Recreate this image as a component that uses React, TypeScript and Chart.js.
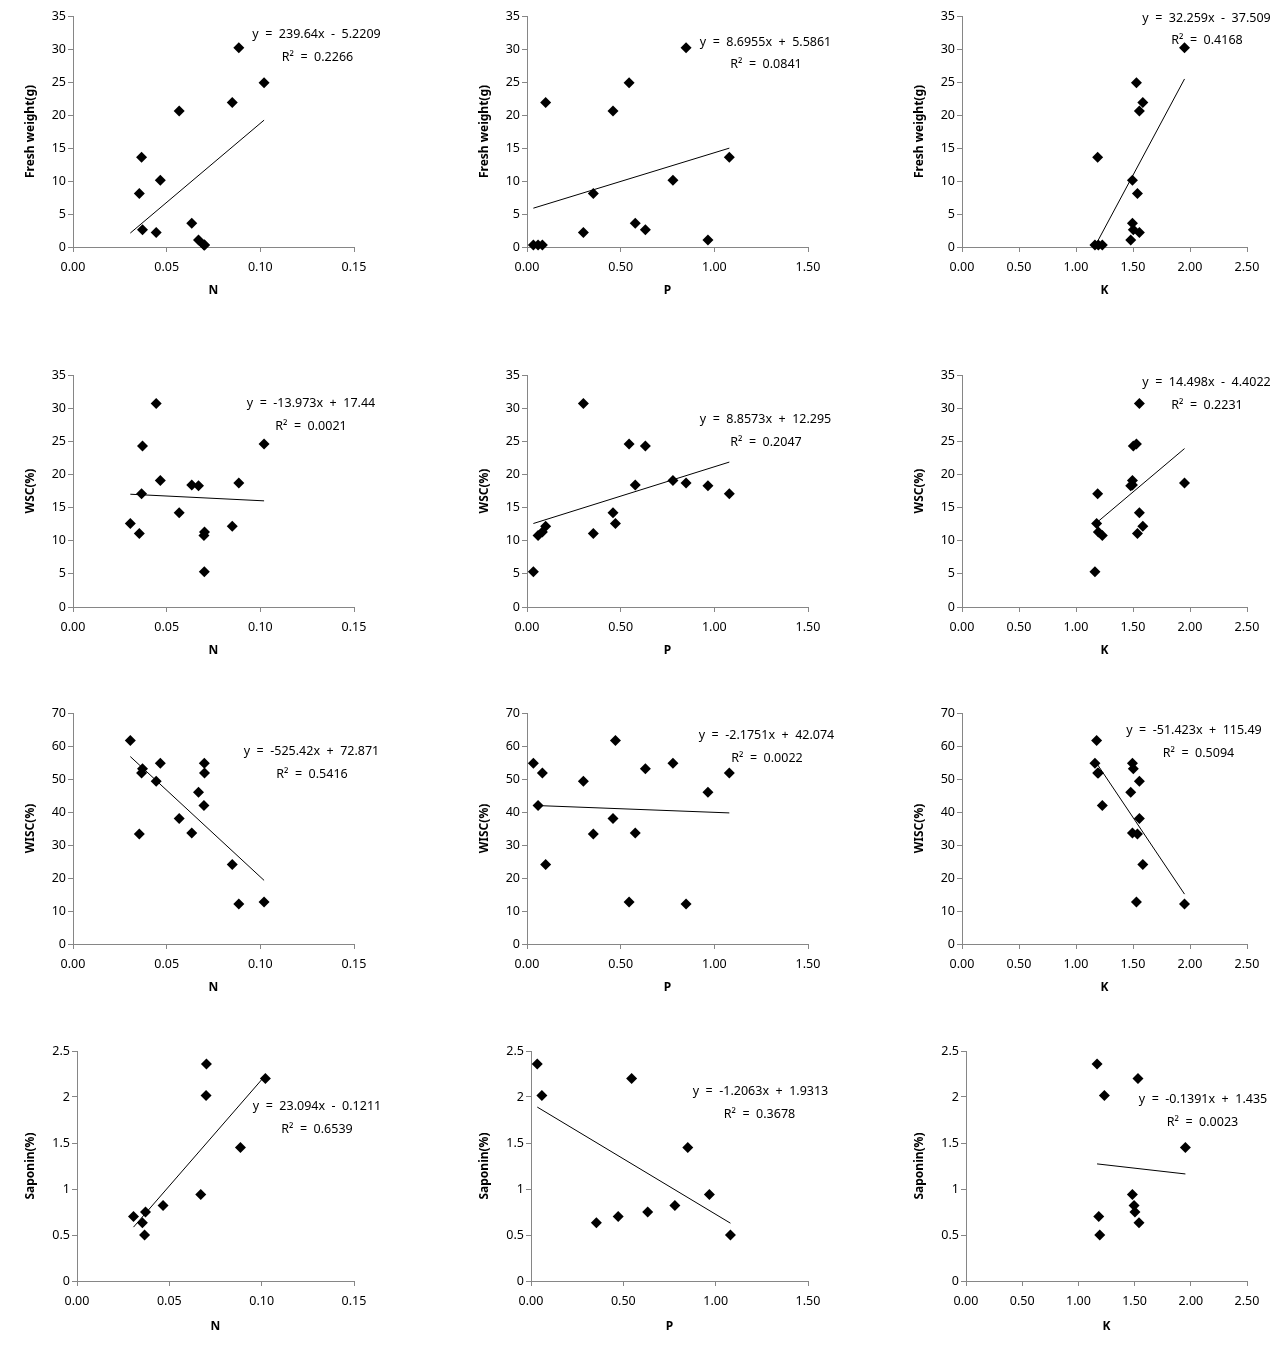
import React, { useEffect, useRef } from 'react';
import { Chart, registerables } from 'chart.js';

Chart.register(...registerables);

// ---- Data (15 samples; null = no measurement) ----
const nitrogen = [0.0444, 0.102, 0.0371, 0.0466, 0.0885, 0.0634, 0.067, 0.0366, 0.0567, 0.0306, 0.085, 0.0354, 0.0702, 0.0699, 0.0701];
const phosphorus = [0.301, 0.545, 0.632, 0.779, 0.849, 0.578, 0.966, 1.08, 0.459, 0.472, 0.0996, 0.354, 0.082, 0.059, 0.034];
const potassium = [1.556, 1.53, 1.503, 1.495, 1.952, 1.495, 1.48, 1.19, 1.556, 1.181, 1.586, 1.539, 1.196, 1.231, 1.166];

const freshWeight = [2.2, 24.9, 2.6, 10.1, 30.2, 3.6, 1.06, 13.6, 20.6, null, 21.9, 8.1, 0.3, 0.3, 0.3];
const wsc = [30.7, 24.6, 24.3, 19.1, 18.7, 18.4, 18.3, 17.1, 14.2, 12.6, 12.2, 11.1, 11.3, 10.8, 5.3];
const wisc = [49.3, 12.7, 53.1, 54.8, 12.1, 33.6, 46.0, 51.8, 38.0, 61.7, 24.1, 33.3, 51.8, 42.0, 54.8];
const saponin = [null, 2.2, 0.75, 0.82, 1.45, null, 0.94, 0.5, null, 0.7, null, 0.633, null, 2.015, 2.36];

const xTitles = ['N', 'P', 'K'];
const xValues = [nitrogen, phosphorus, potassium];
const xTickValues = [
  [0, 0.05, 0.1, 0.15],
  [0, 0.5, 1, 1.5],
  [0, 0.5, 1, 1.5, 2, 2.5],
];

const yTitles = ['Fresh weight(g)', 'WSC(%)', 'WISC(%)', 'Saponin(%)'];
const yValues = [freshWeight, wsc, wisc, saponin];
const yTickValues = [
  [0, 5, 10, 15, 20, 25, 30, 35],
  [0, 5, 10, 15, 20, 25, 30, 35],
  [0, 10, 20, 30, 40, 50, 60, 70],
  [0, 0.5, 1, 1.5, 2, 2.5],
];

// Trendline equations as printed (rows: FW, WSC, WISC, Saponin; cols: N, P, K)
const slopes = [
  [239.64, 8.6955, 32.259],
  [-13.973, 8.8573, 14.498],
  [-525.42, -2.1751, -51.423],
  [23.094, -1.2063, -0.1391],
];
const intercepts = [
  [-5.2209, 5.5861, -37.509],
  [17.44, 12.295, -4.4022],
  [72.871, 42.074, 115.49],
  [-0.1211, 1.9313, 1.435],
];
const rSquared = [
  ['0.2266', '0.0841', '0.4168'],
  ['0.0021', '0.2047', '0.2231'],
  ['0.5416', '0.0022', '0.5094'],
  ['0.6539', '0.3678', '0.0023'],
];

// ---- Layout (page pixels) ----
const PLOT_LEFT = [
  [73, 527, 962],
  [73, 527, 962],
  [73, 527, 962],
  [77, 531, 966],
];
const PLOT_RIGHT = [354, 808, 1247];
const PLOT_TOP = [16, 375, 713, 1051];
const PLOT_BOTTOM = [247, 607, 944, 1281];
const Y_AXIS_W = [50, 50, 50, 54];
const X_AXIS_H = [51, 51, 51, 53];
const PAD_T = 14;
const PAD_R = 30;

const EQ_POS = [
  [[316.5, 34], [765.5, 42], [1206.5, 18]],
  [[311, 403], [765.5, 419], [1206.5, 382]],
  [[311.5, 751], [766.5, 735], [1194, 730]],
  [[317, 1106], [760.5, 1091], [1203, 1099]],
];
const R2_POS = [
  [[317.5, 57], [766, 64], [1207, 40]],
  [[311, 426], [766, 442], [1207, 405]],
  [[312, 774], [767, 758], [1198.5, 753]],
  [[317, 1129], [759.5, 1114], [1202.5, 1122]],
];

const FONT = '"Noto Sans", "Open Sans", Arial, sans-serif';
const AXIS_COLOR = '#868686';

function Panel({ r, c }: { r: number; c: number }) {
  const ref = useRef<HTMLCanvasElement | null>(null);
  const left = PLOT_LEFT[r][c] - Y_AXIS_W[r];
  const top = PLOT_TOP[r] - PAD_T;
  const width = Y_AXIS_W[r] + (PLOT_RIGHT[c] - PLOT_LEFT[r][c]) + PAD_R;
  const height = PAD_T + (PLOT_BOTTOM[r] - PLOT_TOP[r]) + X_AXIS_H[r];

  useEffect(() => {
    if (!ref.current) return;
    const xs = xValues[c];
    const ys = yValues[r];
    const pts: { x: number; y: number }[] = [];
    xs.forEach((x, i) => {
      const y = ys[i];
      if (y !== null && y !== undefined) pts.push({ x, y });
    });
    const xmin = Math.min(...xs);
    const xmax = Math.max(...xs);
    const m = slopes[r][c];
    const b = intercepts[r][c];
    const trend = [
      { x: xmin, y: m * xmin + b },
      { x: xmax, y: m * xmax + b },
    ];
    const eqText = `y  =  ${m}x  ${b < 0 ? '-' : '+'}  ${Math.abs(b)}`;
    const r2Text = `R\u00B2  =  ${rSquared[r][c]}`;

    const labelPlugin = {
      id: 'eqLabels',
      afterDraw(chart: any) {
        const ctx = chart.ctx;
        ctx.save();
        ctx.fillStyle = '#000';
        ctx.font = `12.5px ${FONT}`;
        ctx.textAlign = 'center';
        ctx.textBaseline = 'middle';
        ctx.fillText(eqText, EQ_POS[r][c][0] - left, EQ_POS[r][c][1] - top);
        ctx.fillText(r2Text, R2_POS[r][c][0] - left, R2_POS[r][c][1] - top);
        ctx.restore();
      },
    };

    const xt = xTickValues[c];
    const yt = yTickValues[r];

    const chart = new Chart(ref.current, {
      type: 'scatter',
      data: {
        datasets: [
          {
            data: trend,
            showLine: true,
            borderColor: '#000',
            borderWidth: 1,
            pointRadius: 0,
            pointHoverRadius: 0,
            clip: false,
          } as any,
          {
            data: pts,
            pointStyle: 'rectRot',
            pointRadius: 5.5,
            pointHoverRadius: 5.5,
            backgroundColor: '#000',
            borderColor: '#000',
            borderWidth: 0,
            clip: false,
          } as any,
        ],
      },
      options: {
        animation: false,
        responsive: false,
        devicePixelRatio: 1,
        events: [],
        layout: { padding: { left: 0, top: PAD_T, right: PAD_R, bottom: 0 } },
        plugins: { legend: { display: false }, tooltip: { enabled: false } },
        scales: {
          x: {
            type: 'linear',
            min: xt[0],
            max: xt[xt.length - 1],
            afterBuildTicks: (s: any) => {
              s.ticks = xt.map((v) => ({ value: v }));
            },
            afterFit: (s: any) => {
              s.height = X_AXIS_H[r];
            },
            grid: {
              display: true,
              drawOnChartArea: false,
              drawTicks: true,
              tickLength: 5,
              color: AXIS_COLOR,
              lineWidth: 1,
            },
            border: { display: true, color: AXIS_COLOR, width: 1 },
            ticks: {
              padding: 8,
              color: '#000',
              font: { family: FONT, size: 12.5 },
              maxRotation: 0,
              autoSkip: false,
              callback: (v: any) => Number(v).toFixed(2),
            },
            title: {
              display: true,
              text: xTitles[c],
              color: '#000',
              font: { family: FONT, size: 12, weight: 'bold' },
              padding: 0,
            },
          },
          y: {
            type: 'linear',
            min: yt[0],
            max: yt[yt.length - 1],
            afterBuildTicks: (s: any) => {
              s.ticks = yt.map((v) => ({ value: v }));
            },
            afterFit: (s: any) => {
              s.width = Y_AXIS_W[r];
            },
            grid: {
              display: true,
              drawOnChartArea: false,
              drawTicks: true,
              tickLength: 5,
              color: AXIS_COLOR,
              lineWidth: 1,
            },
            border: { display: true, color: AXIS_COLOR, width: 1 },
            ticks: {
              padding: 2,
              color: '#000',
              font: { family: FONT, size: 12.5 },
              autoSkip: false,
              callback: (v: any) => String(v),
            },
            title: {
              display: true,
              text: yTitles[r],
              color: '#000',
              font: { family: FONT, size: 12, weight: 'bold' },
              padding: 0,
            },
          },
        },
      } as any,
      plugins: [labelPlugin],
    });
    return () => chart.destroy();
  }, []);

  return (
    <canvas
      ref={ref}
      width={width}
      height={height}
      style={{ position: 'absolute', left, top, width, height }}
    />
  );
}

export default function App() {
  const panels: JSX.Element[] = [];
  for (let r = 0; r < 4; r++) {
    for (let c = 0; c < 3; c++) {
      panels.push(<Panel key={`${r}-${c}`} r={r} c={c} />);
    }
  }
  return (
    <div
      style={{
        position: 'absolute',
        left: 0,
        top: 0,
        width: 1274,
        height: 1352,
        overflow: 'hidden',
        background: '#fff',
      }}
    >
      {panels}
    </div>
  );
}
